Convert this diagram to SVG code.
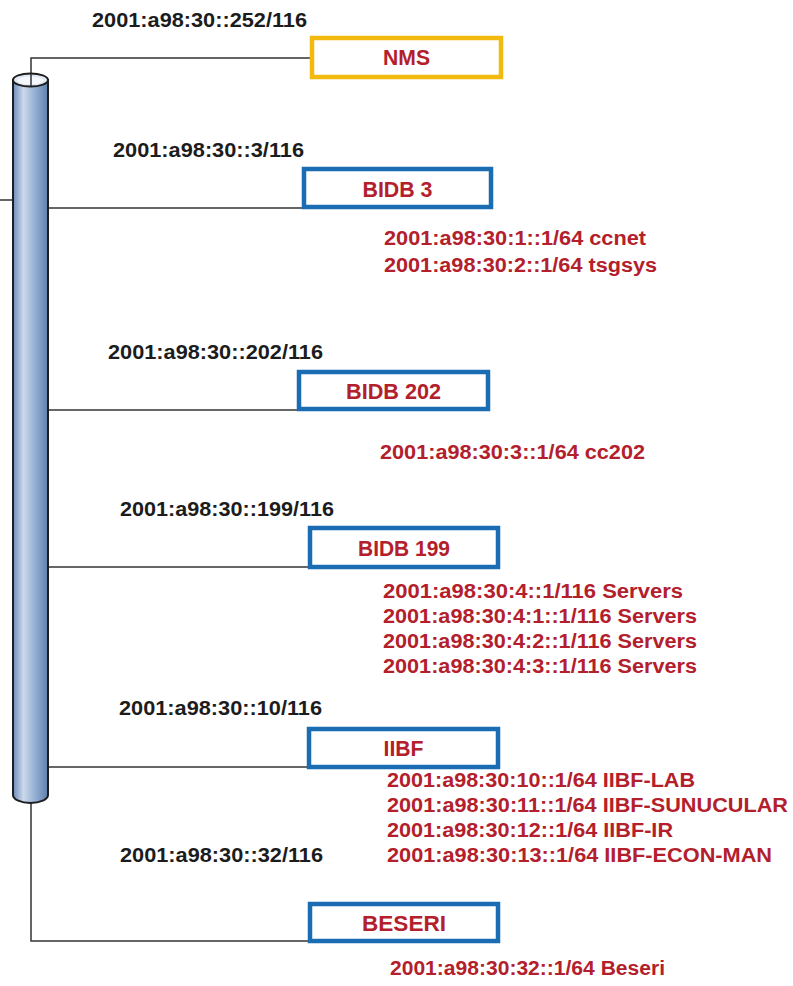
<svg xmlns="http://www.w3.org/2000/svg" width="793" height="986" viewBox="0 0 793 986">
<style>
.lbl{font-family:"Liberation Sans",Arial,sans-serif;font-weight:bold;font-size:20px;fill:#1c1c1c}
.sub{font-family:"Liberation Sans",Arial,sans-serif;font-weight:bold;font-size:20px;fill:#b3202c}
.box{fill:#ffffff;stroke:#1a6db3;stroke-width:4.5}
.nms{fill:#ffffff;stroke:#f2b90f;stroke-width:4.5}
.bl{font-family:"Liberation Sans",Arial,sans-serif;font-weight:bold;font-size:22px;fill:#b3202c;text-anchor:middle}
.ln{fill:none;stroke:#333333;stroke-width:1.5}
</style>
<defs>
<linearGradient id="cyl" x1="0" y1="0" x2="1" y2="0">
<stop offset="0" stop-color="#6a8cba"/>
<stop offset="0.3" stop-color="#cdd9ea"/>
<stop offset="0.6" stop-color="#98b2d5"/>
<stop offset="1" stop-color="#5f80ad"/>
</linearGradient>
</defs>
<rect width="793" height="986" fill="#ffffff"/>
<g id="connectors">
<polyline class="ln" points="31,88 31,58 310,58"/>
<line class="ln" x1="0" y1="200" x2="13" y2="200"/>
<line class="ln" x1="48" y1="208" x2="302" y2="208"/>
<line class="ln" x1="48" y1="410" x2="297" y2="410"/>
<line class="ln" x1="48" y1="567" x2="308" y2="567"/>
<line class="ln" x1="48" y1="767" x2="307" y2="767"/>
<polyline class="ln" points="31,803 31,941 308,941"/>
</g>
<g id="backbone">
<path d="M13,80 L13,795 A17.5,8 0 0 0 48,795 L48,80 Z" fill="url(#cyl)" stroke="#1e1e1e" stroke-width="2"/>
<ellipse cx="30.5" cy="80" rx="17.5" ry="6.5" fill="#dfe8f3" stroke="#1e1e1e" stroke-width="2"/>
<ellipse cx="30.5" cy="80.5" rx="13" ry="4" fill="#f4f7fb" stroke="none"/>
<line x1="31" y1="74" x2="31" y2="86" stroke="#333333" stroke-width="1.5"/>
</g>
<g id="nms">
<rect class="nms" x="312" y="38" width="189" height="39"/>
<text class="bl" x="406.5" y="65" textLength="47" lengthAdjust="spacingAndGlyphs">NMS</text>
<text class="lbl" x="92" y="27" textLength="215" lengthAdjust="spacingAndGlyphs">2001:a98:30::252/116</text>
</g>
<g id="bidb3">
<rect class="box" x="304" y="169" width="187" height="38"/>
<text class="bl" x="397.5" y="197" textLength="70" lengthAdjust="spacingAndGlyphs">BIDB 3</text>
<text class="lbl" x="113" y="157" textLength="191" lengthAdjust="spacingAndGlyphs">2001:a98:30::3/116</text>
<text class="sub" x="384" y="245" textLength="262" lengthAdjust="spacingAndGlyphs">2001:a98:30:1::1/64 ccnet</text>
<text class="sub" x="384" y="272" textLength="273" lengthAdjust="spacingAndGlyphs">2001:a98:30:2::1/64 tsgsys</text>
</g>
<g id="bidb202">
<rect class="box" x="299" y="372" width="189" height="37"/>
<text class="bl" x="393.5" y="399" textLength="95" lengthAdjust="spacingAndGlyphs">BIDB 202</text>
<text class="lbl" x="108" y="359" textLength="215" lengthAdjust="spacingAndGlyphs">2001:a98:30::202/116</text>
<text class="sub" x="380" y="459" textLength="265" lengthAdjust="spacingAndGlyphs">2001:a98:30:3::1/64 cc202</text>
</g>
<g id="bidb199">
<rect class="box" x="310" y="528" width="188" height="39"/>
<text class="bl" x="404" y="556" textLength="92" lengthAdjust="spacingAndGlyphs">BIDB 199</text>
<text class="lbl" x="120" y="516" textLength="214" lengthAdjust="spacingAndGlyphs">2001:a98:30::199/116</text>
<text class="sub" x="383" y="598" textLength="300" lengthAdjust="spacingAndGlyphs">2001:a98:30:4::1/116 Servers</text>
<text class="sub" x="383" y="623" textLength="314" lengthAdjust="spacingAndGlyphs">2001:a98:30:4:1::1/116 Servers</text>
<text class="sub" x="383" y="648" textLength="314" lengthAdjust="spacingAndGlyphs">2001:a98:30:4:2::1/116 Servers</text>
<text class="sub" x="383" y="673" textLength="314" lengthAdjust="spacingAndGlyphs">2001:a98:30:4:3::1/116 Servers</text>
</g>
<g id="iibf">
<rect class="box" x="309" y="729" width="189" height="38"/>
<text class="bl" x="403.5" y="756" textLength="40" lengthAdjust="spacingAndGlyphs">IIBF</text>
<text class="lbl" x="119" y="715" textLength="203" lengthAdjust="spacingAndGlyphs">2001:a98:30::10/116</text>
<text class="sub" x="387" y="787" textLength="308" lengthAdjust="spacingAndGlyphs">2001:a98:30:10::1/64 IIBF-LAB</text>
<text class="sub" x="387" y="812" textLength="401" lengthAdjust="spacingAndGlyphs">2001:a98:30:11::1/64 IIBF-SUNUCULAR</text>
<text class="sub" x="387" y="837" textLength="286" lengthAdjust="spacingAndGlyphs">2001:a98:30:12::1/64 IIBF-IR</text>
<text class="sub" x="387" y="862" textLength="385" lengthAdjust="spacingAndGlyphs">2001:a98:30:13::1/64 IIBF-ECON-MAN</text>
</g>
<g id="beseri">
<rect class="box" x="310" y="904" width="188" height="37"/>
<text class="bl" x="404" y="931" textLength="84" lengthAdjust="spacingAndGlyphs">BESERI</text>
<text class="lbl" x="120" y="862" textLength="203" lengthAdjust="spacingAndGlyphs">2001:a98:30::32/116</text>
<text class="sub" x="390" y="975" textLength="275" lengthAdjust="spacingAndGlyphs">2001:a98:30:32::1/64 Beseri</text>
</g>
</svg>
